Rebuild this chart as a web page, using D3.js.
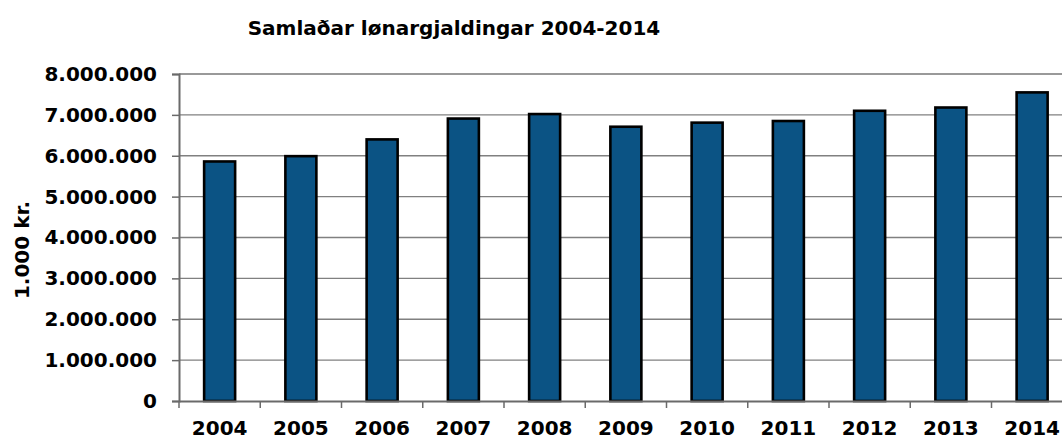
<!DOCTYPE html>
<html><head><meta charset="utf-8">
<script src="https://cdn.jsdelivr.net/npm/d3@7"></script>
<style>body{margin:0;background:#fff}svg{display:block}text{font-family:"DejaVu Sans",Verdana,sans-serif;font-weight:bold;fill:#000}</style>
</head><body><svg id="c" width="1062" height="439"></svg>
<script>
const years = ["2004","2005","2006","2007","2008","2009","2010","2011","2012","2013","2014"];
const values = [5860000,5990000,6400000,6910000,7020000,6710000,6810000,6850000,7100000,7180000,7550000];
const yTicks = [0,1000000,2000000,3000000,4000000,5000000,6000000,7000000,8000000];
const title = "Samlaðar lønargjaldingar 2004-2014";
const yLabel = "1.000 kr.";

(function(){
const svg = d3.select("#c");
const left = 179, step = 81.25, plotTop = 74, plotBottom = 401;
const x = d3.scaleBand().domain(years).range([left, left + step*years.length]).padding(0);
const y = d3.scaleLinear().domain([0, 8000000]).range([plotBottom, plotTop]);
const fmt = v => v === 0 ? "0" : d3.format(",")(v).replace(/,/g, ".");

// gridlines
svg.append("g").selectAll("line").data(yTicks.filter(d=>d>0)).join("line")
  .attr("x1", left).attr("x2", 1062)
  .attr("y1", d=>y(d)).attr("y2", d=>y(d))
  .attr("stroke", d=>d===8000000?"#999":"#808080")
  .attr("stroke-width", d=>d===8000000?2:1.3);

// y axis
const yAx = svg.append("g").attr("transform", `translate(${left},0)`)
  .call(d3.axisLeft(y).tickValues(yTicks).tickFormat(fmt).tickSize(7).tickPadding(15));
yAx.select(".domain").attr("stroke","#6a6a6a").attr("stroke-width",2);
yAx.selectAll(".tick line").attr("stroke","#6a6a6a").attr("stroke-width",1.5);
yAx.selectAll(".tick text").style("font-size","20px").attr("fill","#000")
  .style("font-family","'DejaVu Sans',Verdana,sans-serif").style("font-weight","bold");

// bars
const bw = 31;
svg.append("g").selectAll("rect").data(years).join("rect")
  .attr("x", (d)=>x(d) + x.bandwidth()/2 - bw/2)
  .attr("width", bw)
  .attr("y", (d,i)=>y(values[i]))
  .attr("height", (d,i)=>plotBottom - y(values[i]))
  .attr("fill", "#0b5384").attr("stroke", "#000").attr("stroke-width", 2.6);

// x axis
const xAx = svg.append("g").attr("transform", `translate(0,${plotBottom})`)
  .call(d3.axisBottom(x).tickSize(0).tickPadding(20));
xAx.select(".domain").attr("stroke","#6a6a6a").attr("stroke-width",2);
xAx.selectAll(".tick text").style("font-size","20px").attr("fill","#000")
  .style("font-family","'DejaVu Sans',Verdana,sans-serif").style("font-weight","bold");
// boundary ticks
svg.append("g").selectAll("line").data(years).join("line")
  .attr("x1", d=>x(d)).attr("x2", d=>x(d))
  .attr("y1", plotBottom).attr("y2", plotBottom+7)
  .attr("stroke","#6a6a6a").attr("stroke-width",1.5);

// title
svg.append("text").attr("x", 454).attr("y", 35).attr("text-anchor","middle")
  .style("font-size","20px").text(title);

// y label
svg.append("text").attr("transform","translate(29,250) rotate(-90)")
  .attr("text-anchor","middle").style("font-size","20px").text(yLabel);
})();
</script></body></html>
